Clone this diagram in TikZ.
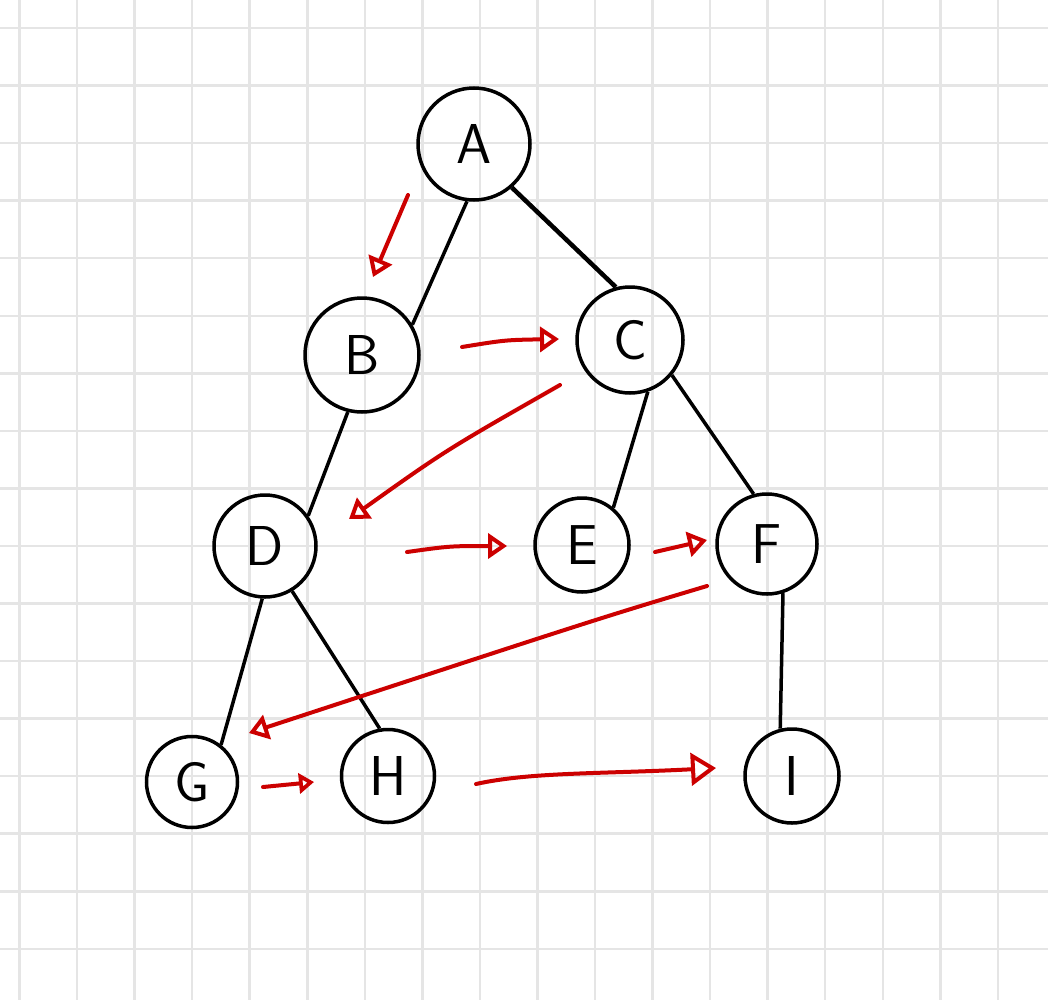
\documentclass[tikz,border=0pt]{standalone}
\usepackage{fontspec}
\usetikzlibrary{arrows.meta}
\definecolor{visitred}{rgb}{0.8,0.0,0.0}
\definecolor{gridgray}{rgb}{0.9,0.9,0.9}

\begin{document}
\begin{tikzpicture}[
  x=0.2mm, y=-0.2mm,
  >={Triangle[open, length=3.8mm, width=5mm]},
  every node/.style={font=\sffamily\fontsize{32}{32}\selectfont},
  vertex/.style={circle, draw=black, line width=0.7mm, inner sep=0pt, minimum size=#1},
  vertex/.default=20mm,
  treeedge/.style={line width=0.7mm},
  visit/.style={->, draw=visitred, line width=0.8mm, line cap=round},
  gridline/.style={draw=gridgray, line width=0.5mm},
]

% ---- paper ----
\fill[white] (0,0) rectangle (1048,1000);
\useasboundingbox (0,0) rectangle (1048,1000);
\foreach \k in {0,...,17}
  \draw[gridline] ({19.5+57.55*\k},0) -- ({19.5+57.55*\k},1000);
\foreach \k in {0,...,16}
  \draw[gridline] (0,{28+57.55*\k}) -- (1048,{28+57.55*\k});

% ---- depth 0 ----
\node[vertex=22.4mm] (a) at (474,144) {A};

% ---- depth 1 ----
\node[vertex=22.8mm] (b) at (362,355) {B};
\node[vertex=21.2mm] (c) at (630,340) {C};

% ---- depth 2 ----
\node[vertex=20.4mm] (d) at (265,546) {D};
\node[vertex=18.8mm] (e) at (582,545) {E};
\node[vertex=20mm]   (f) at (767,544) {F};

% ---- depth 3 ----
\node[vertex=18.2mm] (g) at (192,782) {G};
\node[vertex=18.6mm] (h) at (388,776) {H};
\node[vertex=18.8mm] (i) at (792,776) {I};

% ---- tree edges ----
\draw[treeedge] (a.263) -- (b.31);
\draw[treeedge, line width=0.9mm] (a.311) -- (c.105);
\draw[treeedge] (b.256) -- (d.35);
\draw[treeedge] (c.289) -- (e.50);
\draw[treeedge] (c.320) -- (f.105);
\draw[treeedge] (d.267) -- (g.52);
\draw[treeedge] (d.301) -- (h.100);
\draw[treeedge] (f.288) -- (i.104);

% ---- visiting order (red arrows) ----
\coordinate (s1) at (408,195); \coordinate (t1) at (373,277);
\coordinate (s2) at (462,347); \coordinate (t2) at (559,339);
\coordinate (s3) at (560,385); \coordinate (t3) at (349,519);
\coordinate (s4) at (407,552); \coordinate (t4) at (507,546);
\coordinate (s5) at (655,552); \coordinate (t5) at (707,540);
\coordinate (s6) at (707,586); \coordinate (t6) at (249,733);
\coordinate (s7) at (263,787); \coordinate (t7) at (314,782);
\coordinate (s8) at (476,784); \coordinate (t8) at (716,768);

\draw[visit] (s1) -- (t1);
\draw[visit] (s2) .. controls (505,340) .. (t2);
\draw[visit] (s3) .. controls (446,450) .. (t3);
\draw[visit] (s4) .. controls (450,546) .. (t4);
\draw[visit] (s5) -- (t5);
\draw[visit] (s6) .. controls (600,618) .. (t6);
\draw[visit, >={Triangle[open, length=3mm, width=4mm]}] (s7) -- (t7);
\draw[visit, >={Triangle[open, length=5mm, width=6.5mm]}] (s8) .. controls (530,772) and (600,774) .. (t8);

\end{tikzpicture}
\end{document}
